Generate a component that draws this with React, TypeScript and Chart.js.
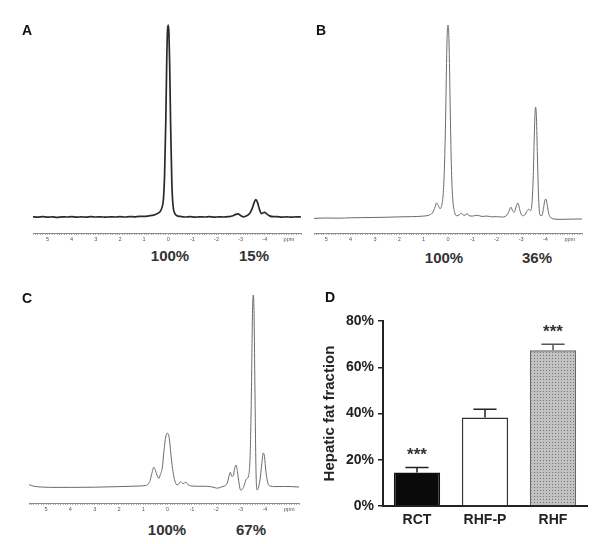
import React, { useEffect, useRef } from 'react';
import { Chart, registerables } from 'chart.js';

Chart.register(...registerables);

const FONT = '"Liberation Sans", Arial, Helvetica, sans-serif';

// ---------- Panel A spectrum (ppm vs relative intensity) ----------
const A_PPM = [5.6, 5.4, 5.2, 5.0, 4.8, 4.6, 4.4, 4.2, 4.0, 3.8, 3.6, 3.4, 3.2, 3.0, 2.8, 2.6, 2.4, 2.2, 2.0, 1.8, 1.6, 1.4, 1.2, 1.0, 0.8, 0.6, 0.45, 0.35, 0.27, 0.2, 0.15, 0.1, 0.06, 0.03, 0.0, -0.03, -0.06, -0.1, -0.15, -0.2, -0.27, -0.35, -0.5, -0.7, -0.9, -1.1, -1.3, -1.5, -1.7, -1.9, -2.1, -2.3, -2.5, -2.65, -2.8, -2.9, -3.0, -3.12, -3.25, -3.38, -3.48, -3.56, -3.63, -3.7, -3.78, -3.86, -3.93, -4.0, -4.08, -4.2, -4.35, -4.5, -4.7, -4.9, -5.1, -5.3, -5.5];
const A_INT = [0.1, -0.1, 0.2, -0.1, 0.1, -0.2, 0.1, 0.0, 0.2, -0.1, 0.1, -0.1, 0.2, 0.0, 0.1, -0.1, 0.1, 0.0, 0.2, 0.0, 0.2, 0.1, 0.3, 0.3, 0.6, 1.0, 1.8, 2.6, 4.5, 9, 22, 50, 82, 97, 100, 96, 80, 48, 18, 6, 2, 0.8, 0.3, 0.0, 0.2, -0.1, 0.1, 0, 0.2, -0.1, 0.1, 0.0, 0.2, 0.5, 1.4, 1.6, 0.8, 0.1, 0.6, 2, 4.5, 7.5, 9, 7.5, 4, 1.8, 2.2, 2.4, 1.6, 0.6, 0.2, 0.2, -0.1, 0.1, -0.1, 0.1, 0];

// ---------- Panel B spectrum ----------
const B_PPM = [5.5, 5.0, 4.5, 4.0, 3.5, 3.0, 2.5, 2.0, 1.5, 1.0, 0.8, 0.65, 0.55, 0.47, 0.4, 0.33, 0.27, 0.2, 0.15, 0.1, 0.06, 0.03, 0, -0.03, -0.06, -0.1, -0.15, -0.2, -0.27, -0.35, -0.45, -0.55, -0.62, -0.7, -0.78, -0.86, -1.0, -1.2, -1.4, -1.6, -1.8, -2.0, -2.2, -2.35, -2.48, -2.58, -2.66, -2.72, -2.8, -2.87, -2.95, -3.05, -3.15, -3.25, -3.32, -3.38, -3.45, -3.5, -3.54, -3.58, -3.6, -3.63, -3.67, -3.72, -3.78, -3.85, -3.92, -3.97, -4.02, -4.07, -4.13, -4.2, -4.35, -4.6, -5.0, -5.5];
const B_INT = [-0.2, 0, -0.1, 0.1, 0.2, 0.3, 0.4, 0.6, 0.7, 1.0, 1.4, 2.5, 5, 7.8, 6.5, 4.8, 6, 12, 25, 50, 80, 96, 100, 96, 80, 50, 22, 9, 3, 1.2, 1.5, 2.5, 1.6, 1.4, 2.4, 1.2, 1.0, 1.4, 0.8, 1.0, 0.6, 0.7, 0.5, 0.8, 2.8, 5.6, 3.5, 3.0, 6, 7.8, 4, 1.2, 1.6, 3.8, 4.6, 3.8, 8, 22, 42, 56, 57.5, 52, 32, 10, 1.5, 1.2, 5, 9, 9.8, 7, 2.5, 0.5, -0.5, -0.7, -0.6, -0.5];

// ---------- Panel C spectrum ----------
const C_PPM = [5.7, 5.5, 5.2, 4.5, 4.0, 3.0, 2.0, 1.2, 0.9, 0.8, 0.72, 0.65, 0.57, 0.5, 0.42, 0.36, 0.3, 0.22, 0.15, 0.08, 0.02, -0.03, -0.08, -0.15, -0.22, -0.3, -0.38, -0.46, -0.53, -0.6, -0.67, -0.74, -0.82, -0.95, -1.2, -1.5, -1.8, -1.95, -2.05, -2.2, -2.35, -2.45, -2.52, -2.58, -2.64, -2.7, -2.76, -2.81, -2.87, -2.94, -3.0, -3.07, -3.15, -3.22, -3.27, -3.33, -3.4, -3.45, -3.49, -3.52, -3.55, -3.59, -3.63, -3.67, -3.72, -3.8, -3.87, -3.93, -3.98, -4.04, -4.12, -4.22, -4.4, -4.8, -5.1, -5.4];
const C_INT = [1.2, 0.4, 0, -0.2, -0.2, -0.1, 0.2, 0.5, 0.8, 1.5, 3.5, 7, 10.3, 8.5, 5.5, 4.5, 6.5, 10, 19, 26, 28, 27.5, 24, 15, 8, 3, 1.2, 1.6, 2.8, 2.0, 1.8, 2.6, 1.4, 0.6, 0.4, 0.4, 0.1, -0.4, -0.6, 0, 0.6, 2, 5.5, 7.7, 5.5, 6, 10, 11.5, 8, 1.5, -1.6, -1.2, 1.0, 3.8, 4.5, 6, 20, 55, 92, 100, 92, 50, 10, -1.5, -0.8, 4, 12, 17.7, 16, 8, 2, 0.5, 0.2, 0.3, 0.2, 0];

// ---------- Panel D bar chart ----------
const CATEGORIES = ['RCT', 'RHF-P', 'RHF'];
const FAT_FRACTION = [14.5, 38.3, 67.4];
const FAT_SEM = [2.2, 3.5, 2.5];
const SIGNIFICANCE = ['***', '', '***'];
const Y_TICKS = [0, 20, 40, 60, 80];

// ---------- Text labels ----------
const PANEL_LETTERS = ['A', 'B', 'C', 'D'];
const A_PERCENTS = ['100%', '15%'];
const B_PERCENTS = ['100%', '36%'];
const C_PERCENTS = ['100%', '67%'];

function spectrumConfig(
  ppm: number[],
  intensity: number[],
  xMin: number,
  xMax: number,
  yMin: number,
  yMax: number,
  color: string,
  lineWidth: number
): any {
  return {
    type: 'line',
    data: {
      datasets: [
        {
          data: ppm.map((p, i) => ({ x: p, y: intensity[i] })),
          borderColor: color,
          borderWidth: lineWidth,
          pointRadius: 0,
          fill: false,
          cubicInterpolationMode: 'monotone',
        },
      ],
    },
    options: {
      animation: false,
      responsive: false,
      maintainAspectRatio: false,
      events: [],
      layout: { padding: 0 },
      plugins: { legend: { display: false }, tooltip: { enabled: false } },
      scales: {
        x: {
          type: 'linear',
          reverse: true,
          min: xMin,
          max: xMax,
          afterFit: (s: any) => {
            s.height = 14;
          },
          grid: {
            display: true,
            drawOnChartArea: false,
            drawTicks: true,
            tickLength: 2,
            color: '#9a9a9a',
            lineWidth: 0.8,
          },
          border: { display: true, color: '#8a8a8a', width: 1 },
          ticks: {
            stepSize: 0.1,
            autoSkip: false,
            maxRotation: 0,
            minRotation: 0,
            padding: 1,
            color: '#555',
            font: { size: 5.5, family: FONT },
            callback: (value: any) => {
              const v = Number(value);
              if (Math.abs(v - Math.round(v)) > 1e-6) return '';
              const r = Math.round(v);
              if (r === -5) return 'ppm';
              if (r < -5 || r > 5) return '';
              return String(r);
            },
          },
        },
        y: { display: false, min: yMin, max: yMax },
      },
    },
  };
}

function makePattern(): any {
  const pc = document.createElement('canvas');
  pc.width = 3;
  pc.height = 3;
  const g = pc.getContext('2d')!;
  g.fillStyle = '#c2c2c2';
  g.fillRect(0, 0, 3, 3);
  g.fillStyle = '#747474';
  g.fillRect(1, 1, 1, 1);
  return g.createPattern(pc, 'repeat');
}

const errorBarPlugin = {
  id: 'errorBars',
  afterDatasetsDraw(chart: any) {
    const ctx = chart.ctx;
    const meta = chart.getDatasetMeta(0);
    const y = chart.scales.y;
    ctx.save();
    meta.data.forEach((bar: any, i: number) => {
      const x = bar.x;
      const top = y.getPixelForValue(FAT_FRACTION[i]);
      const errY = y.getPixelForValue(FAT_FRACTION[i] + FAT_SEM[i]);
      const half = bar.width * 0.25;
      ctx.strokeStyle = i === 2 ? '#555' : '#222';
      ctx.lineWidth = 1.5;
      ctx.beginPath();
      ctx.moveTo(x, top);
      ctx.lineTo(x, errY);
      ctx.moveTo(x - half, errY);
      ctx.lineTo(x + half, errY);
      ctx.stroke();
      if (SIGNIFICANCE[i]) {
        ctx.fillStyle = '#333';
        ctx.font = 'bold 17px ' + FONT;
        ctx.textAlign = 'center';
        ctx.textBaseline = 'alphabetic';
        ctx.fillText(SIGNIFICANCE[i], x, errY - 7);
      }
    });
    ctx.restore();
  },
};

export default function App() {
  const aRef = useRef<HTMLCanvasElement>(null);
  const bRef = useRef<HTMLCanvasElement>(null);
  const cRef = useRef<HTMLCanvasElement>(null);
  const dRef = useRef<HTMLCanvasElement>(null);

  useEffect(() => {
    Chart.defaults.font.family = FONT;
    const charts: Chart[] = [];
    charts.push(
      new Chart(aRef.current!, spectrumConfig(A_PPM, A_INT, -5.5, 5.6, -8.33, 102.6, '#2a2a2a', 1.7))
    );
    charts.push(
      new Chart(bRef.current!, spectrumConfig(B_PPM, B_INT, -5.5, 5.5, -7.77, 102.6, '#6a6a6a', 1))
    );
    charts.push(
      new Chart(cRef.current!, spectrumConfig(C_PPM, C_INT, -5.4, 5.7, -8.33, 102.6, '#6a6a6a', 1))
    );

    const pattern = makePattern();
    charts.push(
      new Chart(dRef.current!, {
        type: 'bar',
        data: {
          labels: CATEGORIES,
          datasets: [
            {
              data: FAT_FRACTION,
              backgroundColor: ['#0a0a0a', '#ffffff', pattern],
              borderColor: ['#111', '#333', '#666'],
              borderWidth: 1.5,
              barPercentage: 0.68,
              categoryPercentage: 1,
            },
          ],
        },
        options: {
          animation: false,
          responsive: false,
          maintainAspectRatio: false,
          events: [],
          layout: { padding: { top: 21, right: 8, left: 0, bottom: 0 } },
          plugins: { legend: { display: false }, tooltip: { enabled: false } },
          scales: {
            x: {
              afterFit: (s: any) => {
                s.height = 34;
              },
              grid: { display: true, drawOnChartArea: false, drawTicks: false },
              border: { display: true, color: '#222', width: 2 },
              ticks: {
                padding: 6,
                color: '#222',
                font: { size: 14, weight: 'bold', family: FONT },
              },
            },
            y: {
              min: Y_TICKS[0],
              max: Y_TICKS[Y_TICKS.length - 1],
              afterFit: (s: any) => {
                s.width = 66;
              },
              grid: {
                display: true,
                drawOnChartArea: false,
                drawTicks: true,
                tickLength: 5,
                color: '#222',
                lineWidth: 1.5,
              },
              border: { display: true, color: '#222', width: 2 },
              afterBuildTicks: (s: any) => {
                s.ticks = Y_TICKS.map((v) => ({ value: v }));
              },
              ticks: {
                padding: 4,
                color: '#222',
                font: { size: 14, weight: 'bold', family: FONT },
                callback: (v: any) => v + '%',
              },
              title: {
                display: true,
                text: 'Hepatic fat fraction',
                color: '#222',
                font: { size: 15, weight: 'bold', family: FONT },
              },
            },
          },
        },
        plugins: [errorBarPlugin],
      } as any)
    );

    return () => {
      charts.forEach((c) => c.destroy());
    };
  }, []);

  const letterStyle = (left: number, top: number): React.CSSProperties => ({
    position: 'absolute',
    left,
    top,
    fontSize: 14,
    lineHeight: '14px',
    fontWeight: 'bold',
    color: '#111',
    fontFamily: FONT,
  });
  const pctStyle = (cx: number, cy: number): React.CSSProperties => ({
    position: 'absolute',
    left: cx - 40,
    top: cy - 7.5,
    width: 80,
    textAlign: 'center',
    fontSize: 15,
    lineHeight: '15px',
    fontWeight: 'bold',
    color: '#333',
    fontFamily: FONT,
  });

  return (
    <div
      style={{
        position: 'fixed',
        left: 0,
        top: 0,
        width: 600,
        height: 544,
        background: '#fff',
        overflow: 'hidden',
        fontFamily: FONT,
      }}
    >
      <canvas ref={aRef} width={270} height={227} style={{ position: 'absolute', left: 32, top: 20 }} />
      <canvas ref={bRef} width={270} height={227} style={{ position: 'absolute', left: 313, top: 20 }} />
      <canvas ref={cRef} width={272} height={227} style={{ position: 'absolute', left: 28, top: 290 }} />
      <canvas ref={dRef} width={278} height={240} style={{ position: 'absolute', left: 317, top: 300 }} />

      <div style={letterStyle(22, 23)}>{PANEL_LETTERS[0]}</div>
      <div style={letterStyle(316, 23)}>{PANEL_LETTERS[1]}</div>
      <div style={letterStyle(22, 291)}>{PANEL_LETTERS[2]}</div>
      <div style={letterStyle(325, 290)}>{PANEL_LETTERS[3]}</div>

      <div style={pctStyle(170, 255)}>{A_PERCENTS[0]}</div>
      <div style={pctStyle(254, 255)}>{A_PERCENTS[1]}</div>
      <div style={pctStyle(444, 257)}>{B_PERCENTS[0]}</div>
      <div style={pctStyle(537, 257)}>{B_PERCENTS[1]}</div>
      <div style={pctStyle(167, 529)}>{C_PERCENTS[0]}</div>
      <div style={pctStyle(251, 529)}>{C_PERCENTS[1]}</div>
    </div>
  );
}
